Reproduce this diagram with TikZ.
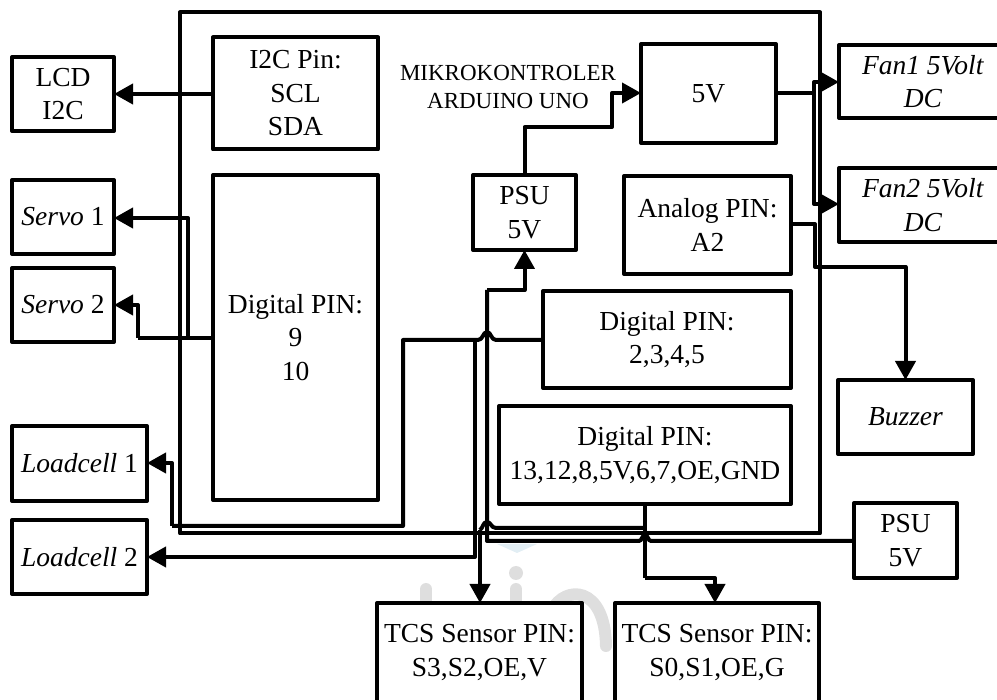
\documentclass[tikz,border=0pt]{standalone}
\usepackage{fontspec}
\setmainfont{Liberation Serif}
\usetikzlibrary{arrows.meta}
\definecolor{wmgray}{gray}{0.87}
\definecolor{wmblue}{RGB}{226,238,244}
\tikzset{
  x=1pt,y=-1pt,
  box/.style={draw=black,line width=4pt,line join=round,inner sep=0pt,outer sep=0pt,align=center,font=\fontsize{27.5}{33.5}\selectfont},
  conn/.style={draw=black,line width=4pt,line join=round},
  arr/.style={conn,-{Triangle[length=19pt,width=20pt]}},
  small/.style={font=\fontsize{23}{28}\selectfont,align=center,inner sep=0pt},
  wmark/.style={draw=wmgray,line width=12pt,line cap=round},
}
\begin{document}
\begin{tikzpicture}
\useasboundingbox (0,0) rectangle (997,700);
\clip (0,0) rectangle (997,700);
% faint watermark behind the diagram
\fill[wmblue] (497,544) -- (537,544) -- (517,553) -- cycle;
\fill[wmgray] (516,573) circle (7);
\draw[wmark] (426,589) -- (426,610);
\draw[wmark] (516,589) -- (516,610);
\draw[wmark] (552,610) .. controls (565,585) and (605,585) .. (606,646);
% main board
\node[box,minimum width=640pt,minimum height=521pt] (main) at (500,273) {};
% inside
\node[box,minimum width=165pt,minimum height=112pt] (i2c) at (295.5,93.5) {I2C Pin:\\SCL\\SDA};
\node[box,minimum width=165pt,minimum height=325pt] (dig) at (295.5,337.5) {Digital PIN:\\9\\10};
\node[small] (title) at (508,87) {MIKROKONTROLER\\ARDUINO UNO};
\node[box,minimum width=135pt,minimum height=99pt] (five) at (708.5,93.5) {5V};
\node[box,minimum width=103pt,minimum height=75pt] (psuin) at (524.5,212.5) {PSU\\5V};
\node[box,minimum width=167pt,minimum height=98pt] (ana) at (707.5,225) {Analog PIN:\\A2};
\node[box,minimum width=248pt,minimum height=97pt] (dtwo) at (667,339.5) {Digital PIN:\\2,3,4,5};
\node[box,minimum width=292pt,minimum height=98pt] (dthr) at (645,455) {Digital PIN:\\13,12,8,5V,6,7,OE,GND};
% left
\node[box,minimum width=102pt,minimum height=74pt] (lcd) at (63,94) {LCD\\I2C};
\node[box,minimum width=102pt,minimum height=74pt] (sa) at (63,217) {\textit{Servo} 1};
\node[box,minimum width=102pt,minimum height=74pt] (sb) at (63,305) {\textit{Servo} 2};
\node[box,minimum width=135pt,minimum height=75pt] (la) at (79.5,463.5) {\textit{Loadcell} 1};
\node[box,minimum width=135pt,minimum height=74pt] (lb) at (79.5,557) {\textit{Loadcell} 2};
% right
\node[box,minimum width=168pt,minimum height=73pt] (fa) at (923,81.5) {\textit{Fan1 5Volt}\\\textit{DC}};
\node[box,minimum width=168pt,minimum height=74pt] (fb) at (923,205) {\textit{Fan2 5Volt}\\\textit{DC}};
\node[box,minimum width=135pt,minimum height=74pt] (buz) at (905.5,417) {\textit{Buzzer}};
\node[box,minimum width=103pt,minimum height=75pt] (psuout) at (905.5,540.5) {PSU\\5V};
% bottom
\node[box,fill=white,minimum width=205pt,minimum height=99pt] (tcsa) at (479.5,652.5) {TCS Sensor PIN:\\S3,S2,OE,V};
\node[box,fill=white,minimum width=204pt,minimum height=99pt] (tcsb) at (717,652.5) {TCS Sensor PIN:\\S0,S1,OE,G};
% connectors
\draw[arr] (i2c.west |- 0,94) -- (lcd.east |- 0,94);
\draw[arr] (psuin.north) |- (612,127) |- (five.west |- 0,93);
\draw[conn] (five.east |- 0,93) -- (814,93);
\draw[arr] (814,93) |- (fa.west |- 0,82);
\draw[arr] (814,93) |- (fb.west |- 0,204);
\draw[conn] (ana.east |- 0,224) -- (815,224) |- (905,267);
\draw[arr] (815,267) -| (buz.north);
\draw[conn] (dig.west |- 0,338) -- (138,338);
\draw[arr] (188,338) |- (sa.east |- 0,218);
\draw[arr] (138,338) |- (sb.east |- 0,305);
% digital 2,3,4,5 to load cells (hop over the PSU line)
\draw[conn] (dtwo.west |- 0,340) -- (496,340) .. controls (491,340) and (491,332) .. (487,332) .. controls (483,332) and (483,340) .. (478,340) -- (403,340) |- (172,526);
\draw[arr] (172,526) |- (la.east |- 0,463);
\draw[arr] (475,340) |- (lb.east |- 0,557);
% PSU out to PSU in
\coordinate (ub) at (487,290);
\draw[conn] (psuout.west |- 0,541) -- (651,541) .. controls (648,541) and (648,535) .. (645,535) .. controls (642,535) and (642,541) .. (639,541) -- (487,541) -- (ub);
\draw[arr] (ub) -| (psuin.south);
% Digital 13.. to sensors
\draw[conn] (645,504) -- (645,578);
\draw[arr] (645,578) -| (tcsb.north -| 715,0);
\draw[conn] (645,528) -- (496,528) .. controls (491,528) and (491,522) .. (487,522) .. controls (483,522) and (483,528) .. (480,530);
\draw[arr] (480,530) -- (tcsa.north -| 480,0);
\end{tikzpicture}
\end{document}
